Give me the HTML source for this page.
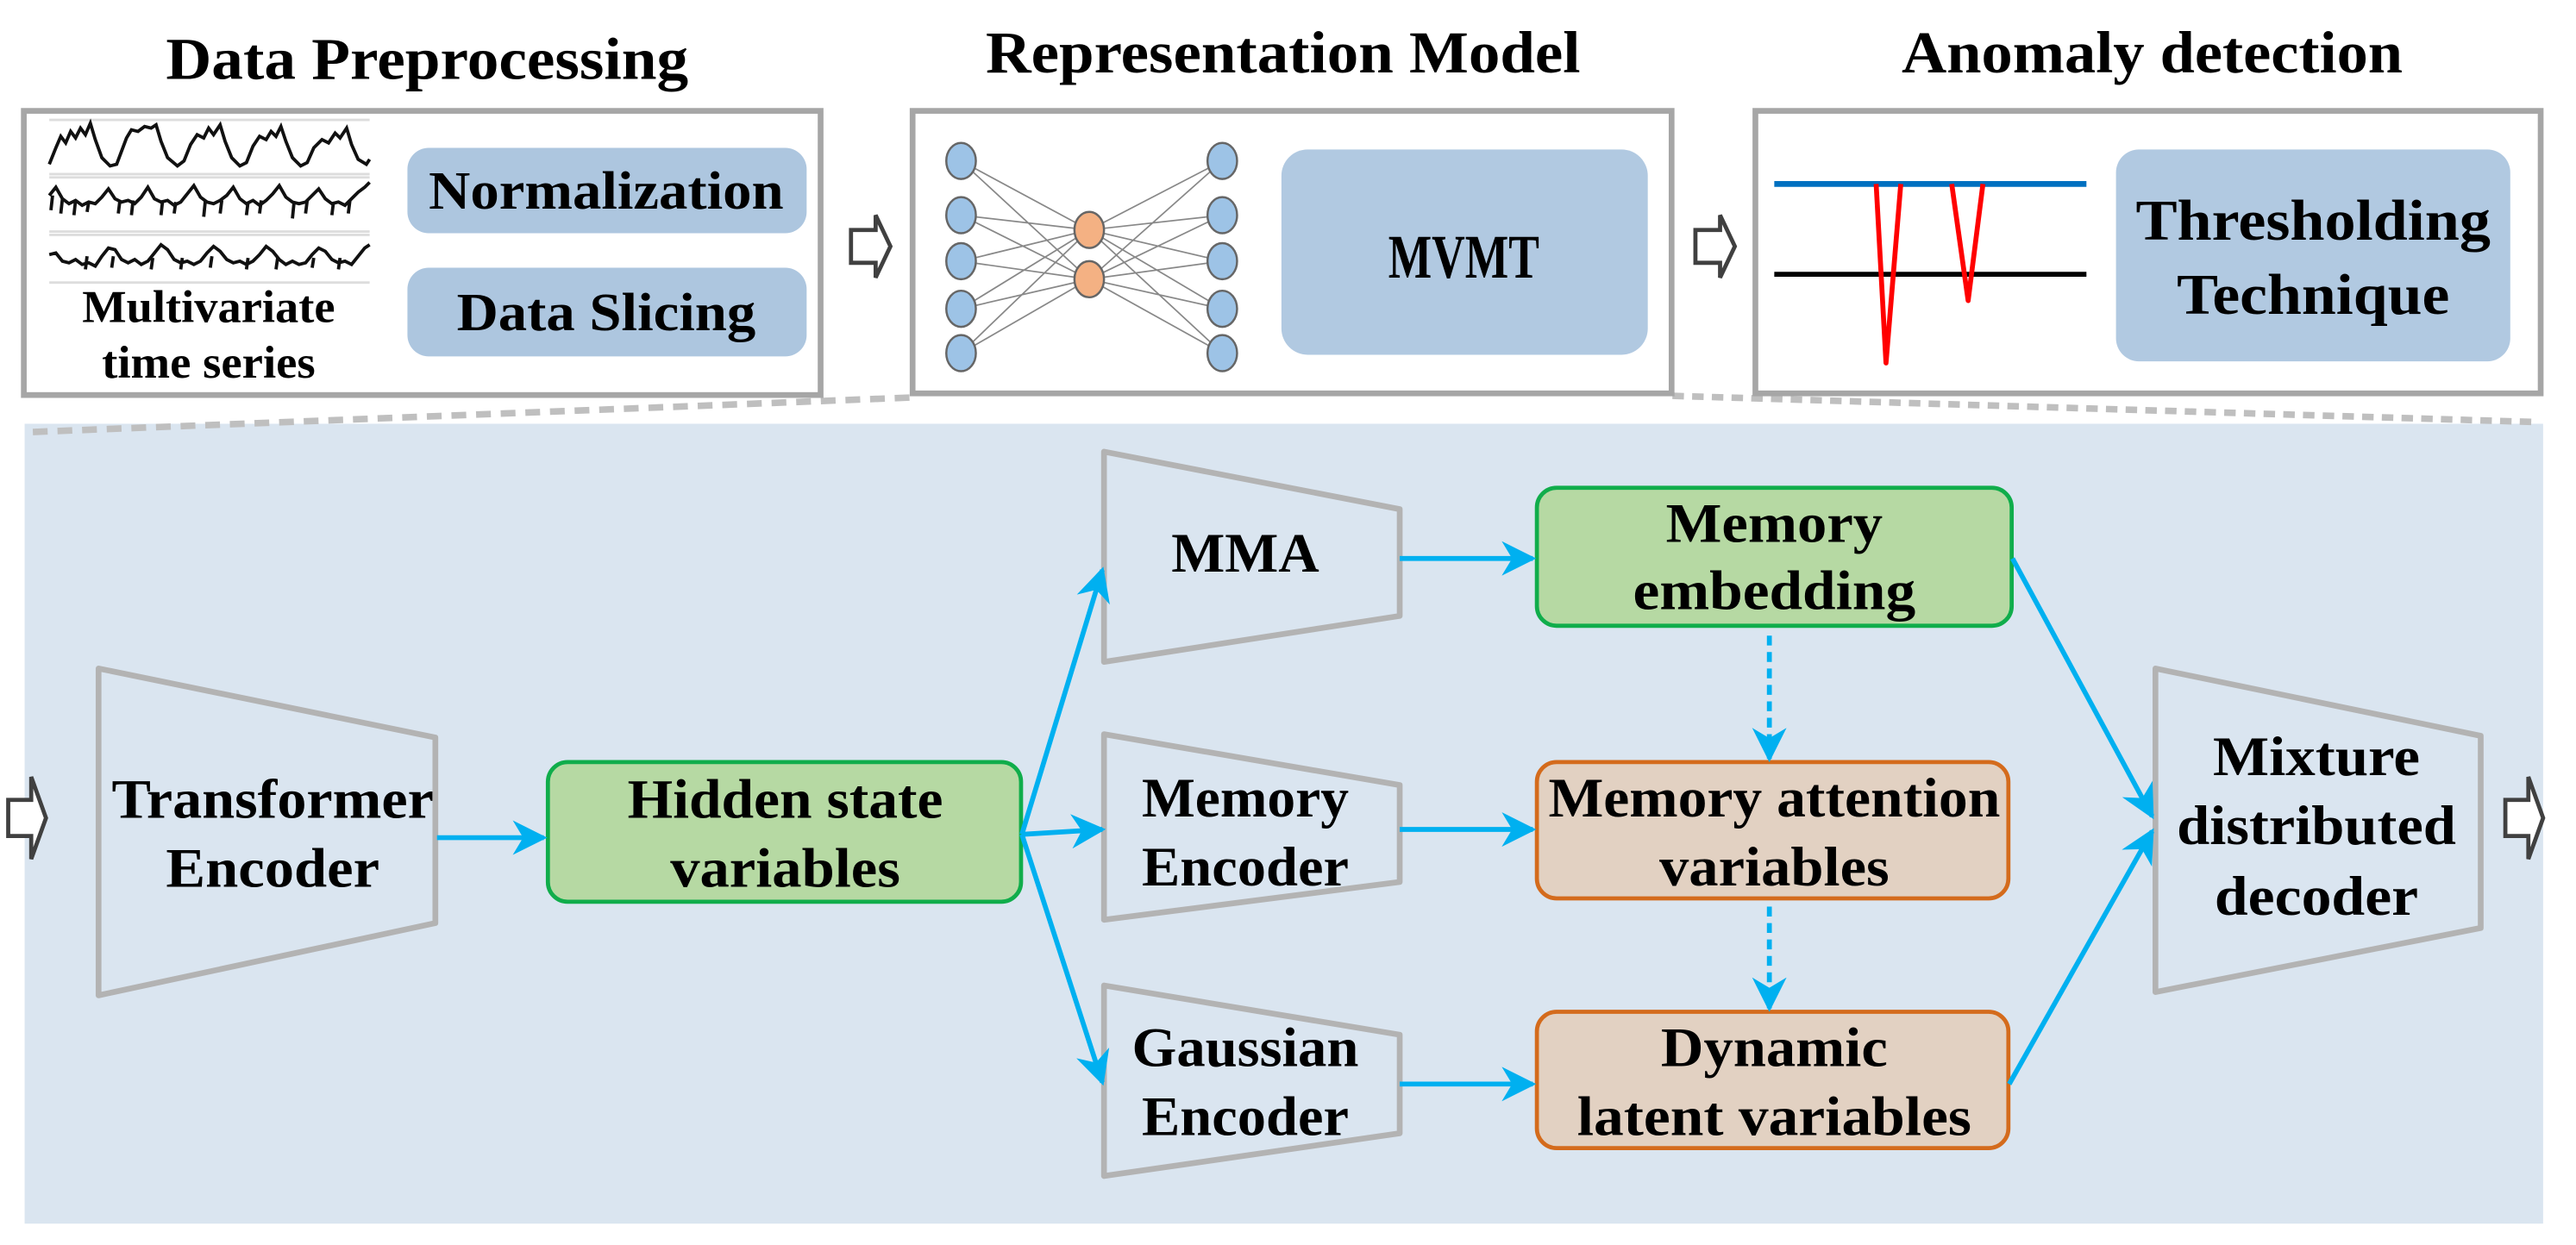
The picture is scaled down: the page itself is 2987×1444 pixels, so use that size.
<!DOCTYPE html>
<html><head><meta charset="utf-8"><style>
html,body{margin:0;padding:0;background:#fff;}
svg{display:block;}
text{font-family:"Liberation Serif",serif;font-weight:bold;fill:#000;text-anchor:middle;}
</style></head><body>
<svg width="2987" height="1444" viewBox="0 0 1568 758" xmlns="http://www.w3.org/2000/svg">
<defs>
<marker id="ah" viewBox="0 0 10 10" refX="9" refY="5" markerWidth="7" markerHeight="7" markerUnits="strokeWidth" orient="auto">
<path d="M0,0 L10,5 L0,10 L3,5 Z" fill="#00b0f0"/></marker>
<marker id="ahs" viewBox="0 0 10 10" refX="9" refY="5" markerWidth="4" markerHeight="4" markerUnits="strokeWidth" orient="auto">
<path d="M0,0 L10,5 L0,10 L3,5 Z" fill="#888"/></marker>
</defs>

<text x="260" y="48" font-size="36" textLength="318" lengthAdjust="spacingAndGlyphs">Data Preprocessing</text>
<text x="781" y="44" font-size="36" textLength="362" lengthAdjust="spacingAndGlyphs">Representation Model</text>
<text x="1310" y="44" font-size="36" textLength="305" lengthAdjust="spacingAndGlyphs">Anomaly detection</text>

<rect x="15" y="258" width="1533" height="487" fill="#dae5f0"/>

<path d="M20,263 L555,242" stroke="#bfbfbf" stroke-width="4" stroke-dasharray="9,6" fill="none"/>
<path d="M1018,241 L1545,257" stroke="#bfbfbf" stroke-width="4" stroke-dasharray="7,5" fill="none"/>

<rect x="14.5" y="67.5" width="485" height="173" fill="#fff" stroke="#a6a6a6" stroke-width="3.5"/>
<rect x="555.5" y="67.5" width="462" height="172" fill="#fff" stroke="#a6a6a6" stroke-width="3.5"/>
<rect x="1068.5" y="67.5" width="478" height="172" fill="#fff" stroke="#a6a6a6" stroke-width="3.5"/>

<g stroke="#ddd" stroke-width="1.5">
<line x1="30" y1="73" x2="225" y2="73"/><line x1="30" y1="106" x2="225" y2="106"/>
<line x1="30" y1="108" x2="225" y2="108"/><line x1="30" y1="141" x2="225" y2="141"/>
<line x1="30" y1="143" x2="225" y2="143"/><line x1="30" y1="172" x2="225" y2="172"/>
</g>
<g fill="none" stroke="#111" stroke-width="2">
<path d="M30,100 L34,90 L37,83 L40,87 L43,80 L46,84 L49,78 L52,82 L55,75 L58,85 L62,96 L67,101 L71,100 L74,92 L77,84 L80,79 L84,80 L88,77 L92,78 L95,76 L98,86 L102,96 L108,101 L112,98 L116,88 L120,82 L124,84 L127,78 L130,82 L134,76 L137,86 L141,96 L146,101 L150,99 L154,89 L158,83 L162,85 L165,80 L168,83 L171,77 L174,86 L178,96 L183,101 L187,99 L191,90 L196,85 L200,87 L204,81 L207,84 L211,78 L214,88 L218,97 L223,100 L225,97"/>
<path d="M30,119 L34,114 L38,121 L42,124 L46,122 L50,125 L54,123 L58,124 L62,120 L66,115 L70,121 L74,123 L78,122 L82,124 L86,120 L90,114 L94,121 L98,123 L102,122 L106,125 L110,123 L114,118 L118,113 L122,120 L126,123 L130,124 L134,122 L138,119 L142,114 L146,121 L150,124 L154,122 L158,125 L162,122 L166,118 L170,113 L174,120 L178,123 L182,124 L186,123 L190,119 L194,115 L198,121 L202,124 L206,123 L210,125 L214,121 L218,117 L222,114 L225,111"/>
<path d="M31,128 L32,119 M37,130 L38,121 M45,131 L46,122 M53,129 L54,123 M72,130 L73,122 M80,131 L81,122 M98,131 L99,122 M106,130 L107,123 M124,132 L125,122 M134,130 L135,122 M150,131 L151,123 M158,130 L159,122 M178,133 L179,123 M186,130 L187,122 M202,131 L203,123 M212,130 L213,122"/>
<path d="M30,155 L34,154 L38,159 L42,160 L46,158 L50,161 L54,160 L58,162 L62,156 L66,151 L70,152 L74,158 L78,160 L82,158 L86,161 L90,159 L94,154 L98,149 L102,152 L106,158 L110,160 L114,159 L118,161 L122,159 L126,154 L130,150 L134,153 L138,158 L142,160 L146,159 L150,161 L154,159 L158,155 L162,150 L166,153 L170,158 L174,161 L178,159 L182,161 L186,160 L190,155 L194,151 L198,153 L202,158 L206,160 L210,159 L214,161 L218,156 L222,151 L225,149"/>
<path d="M52,164 L53,156 M68,163 L69,156 M92,164 L93,157 M110,164 L111,157 M128,163 L129,156 M150,164 L151,157 M168,164 L169,157 M190,163 L191,157 M206,164 L207,157"/>
</g>
<text x="127" y="196" font-size="28" textLength="154" lengthAdjust="spacingAndGlyphs">Multivariate</text>
<text x="127" y="230" font-size="28" textLength="130" lengthAdjust="spacingAndGlyphs">time series</text>

<rect x="248" y="90" width="243" height="52" rx="13" fill="#adc6df"/>
<text x="369" y="127" font-size="33" textLength="216" lengthAdjust="spacingAndGlyphs">Normalization</text>
<rect x="248" y="163" width="243" height="54" rx="13" fill="#adc6df"/>
<text x="369" y="201" font-size="33" textLength="182" lengthAdjust="spacingAndGlyphs">Data Slicing</text>

<path d="M518,140 L533,140 L533,131 L542,150 L533,169 L533,160 L518,160 Z" fill="#fff" stroke="#404040" stroke-width="2.5"/>
<path d="M1032,140 L1047,140 L1047,131 L1056,150 L1047,169 L1047,160 L1032,160 Z" fill="#fff" stroke="#404040" stroke-width="2.5"/>
<path d="M5,487 L19,487 L19,473 L28,498 L19,523 L19,509 L5,509 Z" fill="#fff" stroke="#404040" stroke-width="2.5"/>
<path d="M1525,487 L1539,487 L1539,473 L1548,498 L1539,523 L1539,509 L1525,509 Z" fill="#fff" stroke="#404040" stroke-width="2.5"/>

<g stroke="#888" stroke-width="0.9" fill="none">
<path d="M585,98 L663,140 M585,98 L663,170 M585,131 L663,140 M585,131 L663,170 M585,159 L663,140 M585,159 L663,170 M585,188 L663,140 M585,188 L663,170 M585,215 L663,140 M585,215 L663,170"/>
<path d="M663,140 L744,98 M663,140 L744,131 M663,140 L744,159 M663,140 L744,188 M663,140 L744,215 M663,170 L744,98 M663,170 L744,131 M663,170 L744,159 M663,170 L744,188 M663,170 L744,215" marker-end="url(#ahs)"/>
</g>
<g fill="#9dc3e6" stroke="#666" stroke-width="1.3">
<ellipse cx="585" cy="98" rx="9" ry="11"/><ellipse cx="585" cy="131" rx="9" ry="11"/><ellipse cx="585" cy="159" rx="9" ry="11"/><ellipse cx="585" cy="188" rx="9" ry="11"/><ellipse cx="585" cy="215" rx="9" ry="11"/>
<ellipse cx="744" cy="98" rx="9" ry="11"/><ellipse cx="744" cy="131" rx="9" ry="11"/><ellipse cx="744" cy="159" rx="9" ry="11"/><ellipse cx="744" cy="188" rx="9" ry="11"/><ellipse cx="744" cy="215" rx="9" ry="11"/>
</g>
<g fill="#f4b183" stroke="#666" stroke-width="1.3">
<ellipse cx="663" cy="140" rx="9" ry="11"/><ellipse cx="663" cy="170" rx="9" ry="11"/>
</g>
<rect x="780" y="91" width="223" height="125" rx="16" fill="#b1c9e1"/>
<text x="891" y="169" font-size="38" textLength="92" lengthAdjust="spacingAndGlyphs">MVMT</text>

<line x1="1080" y1="112" x2="1270" y2="112" stroke="#0070c0" stroke-width="3.5"/>
<line x1="1080" y1="167" x2="1270" y2="167" stroke="#000" stroke-width="3"/>
<path d="M1142,112 L1148,221 L1157,112 M1188,112 L1198,183 L1207,112" stroke="#ff0000" stroke-width="3" fill="none" stroke-linejoin="round"/>
<rect x="1288" y="91" width="240" height="129" rx="14" fill="#b1c9e1"/>
<text x="1408" y="146" font-size="35" textLength="216" lengthAdjust="spacingAndGlyphs">Thresholding</text>
<text x="1408" y="191" font-size="35" textLength="166" lengthAdjust="spacingAndGlyphs">Technique</text>

<g fill="none" stroke="#b3b3b3" stroke-width="3.5" stroke-linejoin="round">
<path d="M60,407 L265,449 L265,562 L60,606 Z"/>
<path d="M672,275 L852,310 L852,375 L672,403 Z"/>
<path d="M672,447 L852,478 L852,537 L672,560 Z"/>
<path d="M672,600 L852,630 L852,690 L672,716 Z"/>
<path d="M1312,407 L1510,448 L1510,565 L1312,604 Z"/>
</g>
<g font-size="34">
<text x="166" y="498" textLength="196" lengthAdjust="spacingAndGlyphs">Transformer</text>
<text x="166" y="540" textLength="130" lengthAdjust="spacingAndGlyphs">Encoder</text>
<text x="758" y="348" textLength="90" lengthAdjust="spacingAndGlyphs">MMA</text>
<text x="758" y="497" textLength="126" lengthAdjust="spacingAndGlyphs">Memory</text>
<text x="758" y="539" textLength="126" lengthAdjust="spacingAndGlyphs">Encoder</text>
<text x="758" y="649" textLength="138" lengthAdjust="spacingAndGlyphs">Gaussian</text>
<text x="758" y="691" textLength="126" lengthAdjust="spacingAndGlyphs">Encoder</text>
<text x="1410" y="472" textLength="126" lengthAdjust="spacingAndGlyphs">Mixture</text>
<text x="1410" y="514" textLength="170" lengthAdjust="spacingAndGlyphs">distributed</text>
<text x="1410" y="557" textLength="124" lengthAdjust="spacingAndGlyphs">decoder</text>
</g>

<rect x="333.5" y="464" width="288" height="85" rx="12" fill="#b6d9a3" stroke="#10ad4b" stroke-width="2.5"/>
<rect x="935.5" y="297" width="289" height="84" rx="12" fill="#b6d9a3" stroke="#10ad4b" stroke-width="2.5"/>
<rect x="935.5" y="464" width="287" height="83" rx="12" fill="#e2d1c2" stroke="#d46b1c" stroke-width="2.5"/>
<rect x="935.5" y="616" width="287" height="83" rx="12" fill="#e2d1c2" stroke="#d46b1c" stroke-width="2.5"/>
<g font-size="34">
<text x="478" y="498" textLength="192" lengthAdjust="spacingAndGlyphs">Hidden state</text>
<text x="478" y="540" textLength="140" lengthAdjust="spacingAndGlyphs">variables</text>
<text x="1080" y="330" textLength="132" lengthAdjust="spacingAndGlyphs">Memory</text>
<text x="1080" y="371" textLength="172" lengthAdjust="spacingAndGlyphs">embedding</text>
<text x="1080" y="497" textLength="275" lengthAdjust="spacingAndGlyphs">Memory attention</text>
<text x="1080" y="539" textLength="140" lengthAdjust="spacingAndGlyphs">variables</text>
<text x="1080" y="649" textLength="138" lengthAdjust="spacingAndGlyphs">Dynamic</text>
<text x="1080" y="691" textLength="240" lengthAdjust="spacingAndGlyphs">latent variables</text>
</g>

<g stroke="#00b0f0" stroke-width="3" fill="none" marker-end="url(#ah)">
<line x1="266" y1="510" x2="331" y2="510"/>
<line x1="622" y1="508" x2="671" y2="347"/>
<line x1="622" y1="508" x2="671" y2="505"/>
<line x1="622" y1="508" x2="671" y2="659"/>
<line x1="852" y1="340" x2="933" y2="340"/>
<line x1="852" y1="505" x2="933" y2="505"/>
<line x1="852" y1="660" x2="933" y2="660"/>
<line x1="1225" y1="340" x2="1310" y2="497"/>
<line x1="1223" y1="660" x2="1310" y2="506"/>
<line x1="1077" y1="387" x2="1077" y2="462" stroke-dasharray="6,4"/>
<line x1="1077" y1="552" x2="1077" y2="614" stroke-dasharray="6,4"/>
</g>
</svg>
</body></html>
